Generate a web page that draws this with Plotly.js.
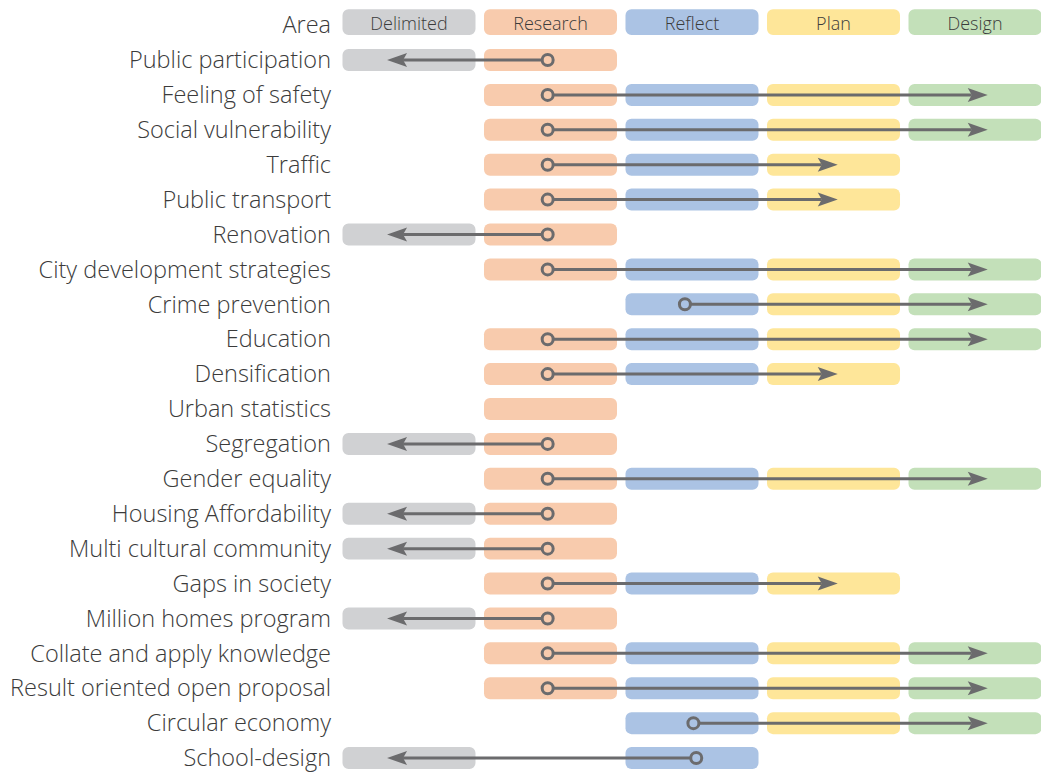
<!DOCTYPE html>
<html><head><meta charset="utf-8">
<script src="https://cdn.plot.ly/plotly-3.0.1.min.js"></script>
<style>html,body{margin:0;padding:0;background:#fff}#chart{width:1041px;height:772px}</style>
</head><body><div id="chart"></div>
<script>
const categories = ['Area','Public participation','Feeling of safety','Social vulnerability','Traffic','Public transport','Renovation','City development strategies','Crime prevention','Education','Densification','Urban statistics','Segregation','Gender equality','Housing Affordability','Multi cultural community','Gaps in society','Million homes program','Collate and apply knowledge','Result oriented open proposal','Circular economy','School-design'];
const stages = ['Delimited','Research','Reflect','Plan','Design'];
// stage indices (0..4) present in each row
const rowStages = [
  [0,1,2,3,4],
  [0,1],
  [1,2,3,4],
  [1,2,3,4],
  [1,2,3],
  [1,2,3],
  [0,1],
  [1,2,3,4],
  [2,3,4],
  [1,2,3,4],
  [1,2,3],
  [1],
  [0,1],
  [1,2,3,4],
  [0,1],
  [0,1],
  [1,2,3],
  [0,1],
  [1,2,3,4],
  [1,2,3,4],
  [2,3,4],
  [0,2]
];
// arrow start (circle) and end (arrow tip) on the stage scale
const arrowStart = [null,0.98,0.98,0.98,0.98,0.98,0.98,0.98,1.95,0.98,0.98,null,0.98,0.98,0.98,0.98,0.98,0.98,0.98,0.98,2.01,2.03];
const arrowEnd   = [null,-0.155,4.09,4.09,3.03,3.03,-0.155,4.09,4.09,4.09,3.03,null,-0.155,4.09,-0.155,-0.155,3.03,-0.155,4.09,4.09,4.09,-0.155];

const stageColors = ['#d0d1d3','#f8cbad','#abc3e4','#fee699','#c3e0b9'];
const arrowColor = '#6b6b6d';
const textColor = '#3b3b3b';
const FONT = '"Open Sans", Lato, sans-serif';

const xRange = [-0.4876, 4.4664];
const plotW = 1041 - 340;
const pxPerUnit = plotW / (xRange[1] - xRange[0]);
const headLen = 20, headHalf = 7, notch = 4;

const traces = [];
// header row boxes
traces.push({
  type:'bar', orientation:'h',
  y: stages.map(() => categories[0]),
  base: stages.map((s,i) => i - 0.47),
  x: stages.map(() => 0.94),
  width: 0.74, offset: -0.456,
  marker:{color: stageColors, cornerradius: 6},
  hoverinfo:'skip'
});
// header texts
traces.push({
  type:'scatter', mode:'text',
  x: stages.map((s,i) => i), y: stages.map(() => categories[0]),
  text: stages, textposition:'middle center',
  textfont:{family:FONT, size:18, color:textColor, weight:300},
  hoverinfo:'skip', cliponaxis:false
});
// body boxes, one trace per stage
stages.forEach((s, si) => {
  const ys = [];
  categories.forEach((c, ri) => { if (ri > 0 && rowStages[ri].includes(si)) ys.push(c); });
  traces.push({
    type:'bar', orientation:'h', name:s,
    y: ys, base: ys.map(() => si - 0.47), x: ys.map(() => 0.94),
    width: 0.63,
    marker:{color: stageColors[si], cornerradius: 6},
    hoverinfo:'skip'
  });
});
// arrow lines
const lx = [], ly = [];
const shapes = [];
categories.forEach((c, ri) => {
  const s = arrowStart[ri], e = arrowEnd[ri];
  if (s === null || e === null) return;
  const dir = e > s ? 1 : -1;
  lx.push(s, e - dir * (headLen - notch) / pxPerUnit, null);
  ly.push(c, c, null);
  const L = -dir * headLen, N = -dir * (headLen - notch);
  shapes.push({
    type:'path', xref:'x', yref:'y', xsizemode:'pixel', ysizemode:'pixel',
    xanchor: e, yanchor: c,
    path: `M0,0 L${L},${headHalf} L${N},0 L${L},${-headHalf} Z`,
    fillcolor: arrowColor, line:{width:0}, layer:'above'
  });
});
traces.push({type:'scatter', mode:'lines', x: lx, y: ly, line:{color:arrowColor, width:3}, hoverinfo:'skip'});
// start circles
const cx = [], cy = [], cc = [];
categories.forEach((c, ri) => {
  const s = arrowStart[ri];
  if (s === null) return;
  cx.push(s); cy.push(c); cc.push(stageColors[Math.round(s)]);
});
traces.push({type:'scatter', mode:'markers', x: cx, y: cy,
  marker:{symbol:'circle', size:11, color: cc, line:{color:arrowColor, width:3}}, hoverinfo:'skip'});

const layout = {
  width:1041, height:772,
  margin:{l:340, r:0, t:0, b:0},
  paper_bgcolor:'#fff', plot_bgcolor:'#fff',
  showlegend:false, barmode:'overlay',
  font:{family:FONT, color:textColor},
  xaxis:{range: xRange, visible:false, fixedrange:true},
  yaxis:{type:'category', categoryorder:'array', categoryarray: categories,
    range:[21.40, -0.719], showgrid:false, zeroline:false, showline:false, ticks:'',
    tickfont:{family:FONT, size:23.5, color:textColor, weight:300}, ticklabelstandoff:8, fixedrange:true},
  shapes: shapes
};
Plotly.newPlot('chart', traces, layout, {displayModeBar:false, staticPlot:true});
</script></body></html>
